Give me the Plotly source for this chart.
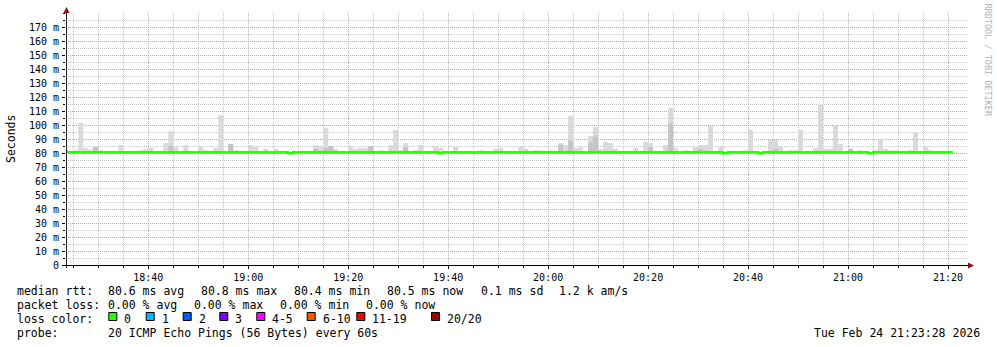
import plotly.graph_objects as go
from datetime import datetime, timedelta

# ---------------- data ----------------
BASE = datetime(2026, 2, 24, 18, 40)          # reference time (18:40)
AXIS_START_MIN = -16.46                       # minutes relative to BASE
AXIS_END_MIN = 164.0

# smoke (ping spread) per minute, minutes relative to 18:40
smoke_minutes = [-17, -15, -14, -13, -12, -11, -10, -6, -2, -1, 0, 3, 4, 5, 7, 10, 11, 13, 14, 16,
                 17, 20, 21, 23, 25, 33, 34, 35, 36, 37, 40, 41, 42, 43, 44, 46, 48, 49, 50, 51,
                 53, 54, 57, 58, 61, 66, 69, 70, 74, 75, 77, 78, 80, 82, 83, 84, 85, 86, 88, 89,
                 90, 91, 92, 93, 97, 99, 100, 103, 104, 105, 107, 109, 110, 111, 112, 114, 119, 120, 124, 125,
                 126, 128, 129, 130, 133, 134, 135, 136, 137, 138, 140, 142, 145, 146, 147, 148, 149, 152, 153, 155,
                 156]
smoke_max = [82.0, 82.0, 101.4, 83.6, 82.5, 84.3, 82.0, 85.7, 82.0, 83.0, 83.6, 87.1, 95.5, 84.3, 85.7, 85.0, 82.0, 83.6, 107.1, 86.4,
             82.0, 85.7, 84.3, 83.0, 83.0, 85.7, 85.0, 97.9, 85.0, 83.0, 85.0, 83.0, 83.6, 83.6, 85.0, 82.0, 85.7, 96.4, 82.0, 87.1,
             82.0, 85.7, 85.0, 83.6, 84.3, 82.0, 83.0, 83.6, 84.3, 83.0, 82.0, 82.0, 82.0, 87.1, 85.7, 106.4, 83.6, 84.3, 92.1, 98.6,
             83.0, 87.9, 87.1, 83.0, 83.6, 87.9, 87.1, 85.7, 112.1, 83.6, 82.0, 84.3, 85.7, 85.7, 99.3, 84.3, 82.0, 96.4, 89.3, 89.3,
             85.0, 82.0, 82.0, 96.4, 83.6, 114.3, 83.0, 83.0, 100.0, 86.4, 83.0, 82.0, 82.0, 90.0, 83.0, 82.0, 82.0, 82.0, 94.3, 84.3,
             82.0]
smoke_floor = 80.2

# denser core of the smoke
dark_minutes = [-17, -11, 4, 16, 33, 35, 36, 44, 51, 82, 84, 88, 89, 100, 104, 110, 125, 140]
dark_max = [82.0, 84.3, 85.0, 86.4, 83.0, 83.6, 85.0, 85.0, 84.3, 86.0, 89.0, 87.4, 91.7, 84.3, 101.0, 83.0, 83.0, 83.0]

# median rtt per minute, starting at minute -17
median_start_min = -17
median_rtt = [
    80.6, 80.6, 80.6, 80.6, 80.6, 80.6, 80.6, 80.6, 80.6, 80.6,
    80.6, 80.6, 80.6, 80.6, 80.6, 80.6, 80.6, 80.6, 80.6, 80.6,
    80.6, 80.6, 80.6, 80.6, 80.6, 80.6, 80.6, 80.6, 80.6, 80.6,
    80.6, 80.6, 80.6, 80.6, 80.6, 80.6, 80.6, 80.6, 80.6, 80.6,
    80.6, 80.6, 80.6, 80.6, 80.6, 79.8, 80.6, 80.6, 80.6, 80.6,
    80.6, 80.6, 80.6, 80.6, 80.6, 80.6, 80.6, 80.6, 80.6, 80.6,
    80.6, 80.6, 80.6, 80.6, 80.6, 80.6, 80.6, 80.6, 80.6, 80.6,
    80.6, 80.6, 80.6, 80.6, 80.6, 79.8, 80.6, 80.6, 80.6, 80.6,
    80.6, 80.6, 80.6, 80.6, 80.6, 80.6, 80.6, 80.6, 80.6, 80.6,
    80.6, 80.6, 80.6, 80.6, 80.6, 80.6, 80.6, 80.6, 80.6, 80.6,
    80.6, 80.6, 80.6, 80.6, 80.6, 80.6, 80.6, 80.6, 80.6, 80.6,
    80.6, 80.6, 80.6, 80.6, 80.6, 80.6, 80.6, 80.6, 80.6, 80.6,
    80.6, 80.6, 80.6, 80.6, 80.6, 80.6, 80.6, 80.6, 80.6, 80.6,
    80.6, 80.6, 79.8, 80.6, 80.6, 80.6, 80.6, 80.6, 80.6, 79.8,
    80.6, 80.6, 80.6, 80.6, 80.6, 80.6, 80.6, 80.6, 80.6, 80.6,
    80.6, 80.6, 80.6, 80.6, 80.6, 80.6, 80.6, 80.6, 80.6, 80.6,
    80.6, 79.8, 80.6, 80.6, 80.6, 80.6, 80.6, 80.6, 80.6, 80.6,
    80.6, 80.6, 80.6, 80.6, 80.6, 80.6, 80.6, 80.6, 80.6,
]

y_tick_values = [0, 10, 20, 30, 40, 50, 60, 70, 80, 90, 100, 110, 120, 130, 140, 150, 160, 170]
y_tick_labels = ["0", "10 m", "20 m", "30 m", "40 m", "50 m", "60 m", "70 m", "80 m", "90 m",
                 "100 m", "110 m", "120 m", "130 m", "140 m", "150 m", "160 m", "170 m"]

rtt_avg, rtt_max, rtt_min, rtt_now, rtt_sd, rtt_ams = 80.6, 80.8, 80.4, 80.5, 0.1, 1.2
loss_avg, loss_max, loss_min, loss_now = 0.00, 0.00, 0.00, 0.00
loss_labels = ["0", "1", "2", "3", "4-5", "6-10", "11-19", "20/20"]
loss_colors = ["#26ff00", "#00b8ff", "#0059ff", "#7e00ff", "#ff00ff", "#ff5500", "#ff0000", "#a10000"]
probe_text = "20 ICMP Echo Pings (56 Bytes) every 60s"
stamp_text = "Tue Feb 24 21:23:28 2026"

# ---------------- geometry helpers ----------------
W, H = 997, 347
L, R, T, B = 66, 29, 13, 82
PW, PH = W - L - R, H - T - B


def xp(px):
    return (px - L) / PW


def yp(py):
    return (H - B - py) / PH


def t(m, s=0):
    return BASE + timedelta(minutes=m, seconds=s)


MONO = "DejaVu Sans Mono"
MAJOR = "rgba(240,128,128,0.75)"
MINOR = "rgba(190,190,190,0.85)"

fig = go.Figure()

fig.add_trace(go.Bar(
    x=[t(m, 30) for m in smoke_minutes],
    y=[v - smoke_floor for v in smoke_max],
    base=smoke_floor,
    width=60000,
    marker=dict(color="#dadada", line=dict(width=0)),
    hoverinfo="skip",
))
fig.add_trace(go.Bar(
    x=[t(m, 30) for m in dark_minutes],
    y=[v - smoke_floor for v in dark_max],
    base=smoke_floor,
    width=60000,
    marker=dict(color="#c4c4c4", line=dict(width=0)),
    hoverinfo="skip",
))
fig.add_trace(go.Scatter(
    x=[t(median_start_min + i) for i in range(len(median_rtt))],
    y=median_rtt,
    mode="lines",
    line=dict(color="#26ff00", width=2.5, shape="hv"),
    hoverinfo="skip",
))

fig.update_layout(
    width=W, height=H,
    margin=dict(l=L, r=R, t=T, b=B, pad=0),
    paper_bgcolor="white", plot_bgcolor="white",
    showlegend=False, barmode="overlay",
    font=dict(family=MONO, color="black"),
    xaxis=dict(
        type="date",
        range=[t(AXIS_START_MIN), t(AXIS_END_MIN)],
        tickformat="%H:%M", tick0=BASE, dtick=20 * 60 * 1000,
        ticks="outside", ticklen=3, tickcolor="black",
        tickfont=dict(family=MONO, size=10, color="black"),
        showgrid=True, gridcolor=MAJOR, griddash="1px,1px", gridwidth=1,
        showline=False, zeroline=False,
        minor=dict(tick0=BASE, dtick=5 * 60 * 1000, showgrid=True, gridcolor=MINOR,
                   griddash="1px,1px", ticks="outside", ticklen=2, tickcolor="black"),
        fixedrange=True,
    ),
    yaxis=dict(
        range=[0, 180],
        tickmode="array", tickvals=y_tick_values, ticktext=y_tick_labels,
        ticks="outside", ticklen=3, tickcolor="black", ticklabelstandoff=1,
        tickfont=dict(family=MONO, size=10, color="black"),
        showgrid=True, gridcolor=MAJOR, griddash="1px,1px", gridwidth=1,
        showline=False, zeroline=False,
        minor=dict(tickmode="linear", tick0=0, dtick=5, showgrid=True, gridcolor=MINOR,
                   griddash="1px,1px", ticks="outside", ticklen=2, tickcolor="black"),
        fixedrange=True,
    ),
)

shapes = []
# axes lines with overhang and arrow heads
shapes.append(dict(type="line", xref="paper", yref="paper", x0=xp(66.5), x1=xp(66.5), y0=yp(268), y1=yp(9),
                   line=dict(color="#202020", width=1), layer="above"))
shapes.append(dict(type="line", xref="paper", yref="paper", x0=xp(63), x1=xp(969), y0=yp(265.5), y1=yp(265.5),
                   line=dict(color="black", width=1), layer="above"))
shapes.append(dict(type="path", xref="paper", yref="paper",
                   path=f"M {xp(63.5)},{yp(13)} L {xp(69.5)},{yp(13)} L {xp(66.5)},{yp(7)} Z",
                   fillcolor="#8b1010", line=dict(width=0), layer="above"))
shapes.append(dict(type="path", xref="paper", yref="paper",
                   path=f"M {xp(968)},{yp(262.5)} L {xp(968)},{yp(268.5)} L {xp(974)},{yp(265.5)} Z",
                   fillcolor="#8b1010", line=dict(width=0), layer="above"))

annotations = []


def txt(s, px, py, size=11.5, anchor="left", color="black"):
    annotations.append(dict(text=s, x=xp(px), y=yp(py), xref="paper", yref="paper",
                            xanchor=anchor, yanchor="middle", showarrow=False,
                            font=dict(family=MONO, size=size, color=color), borderpad=0))


# axis title and watermark
annotations.append(dict(text="Seconds", x=xp(11), y=yp(139), xref="paper", yref="paper",
                        xanchor="center", yanchor="middle", textangle=-90, showarrow=False,
                        font=dict(family=MONO, size=11.5, color="black")))
annotations.append(dict(text="RRDTOOL / TOBI OETIKER", x=xp(988), y=yp(59.5), xref="paper", yref="paper",
                        xanchor="center", yanchor="middle", textangle=90, showarrow=False,
                        font=dict(family=MONO, size=8.5, color="#b4b4b4")))

# legend rows
r1, r2, r3, r4 = 291.2, 305.2, 319.2, 333.2
txt("median rtt:", 16, r1)
txt(f"{rtt_avg:.1f} ms avg", 107.3, r1)
txt(f"{rtt_max:.1f} ms max", 200, r1)
txt(f"{rtt_min:.1f} ms min", 293.3, r1)
txt(f"{rtt_now:.1f} ms now", 386, r1)
txt(f"{rtt_sd:.1f} ms sd", 479.5, r1)
txt(f"{rtt_ams:.1f} k am/s", 558.3, r1)

txt("packet loss:", 16, r2)
txt(f"{loss_avg:.2f} % avg", 107.3, r2)
txt(f"{loss_max:.2f} % max", 193.3, r2)
txt(f"{loss_min:.2f} % min", 279.3, r2)
txt(f"{loss_now:.2f} % now", 365.3, r2)

txt("loss color:", 16, r3)
box_x = [108.3, 145.7, 182.7, 219.3, 256.3, 306.7, 356.3, 431.0]
for bx, lab, col in zip(box_x, loss_labels, loss_colors):
    shapes.append(dict(type="rect", xref="paper", yref="paper",
                       x0=xp(bx + 0.5), x1=xp(bx + 8.5), y0=yp(312.5), y1=yp(320.5),
                       fillcolor=col, line=dict(color="black", width=1), layer="above"))
    txt(lab, bx + 15, r3)

txt("probe:", 16, r4)
txt(probe_text, 107.3, r4)
txt(stamp_text, 980.5, r4, anchor="right")

fig.update_layout(shapes=shapes, annotations=annotations)

fig.write_html("out.html", config={"displayModeBar": False, "staticPlot": True})
